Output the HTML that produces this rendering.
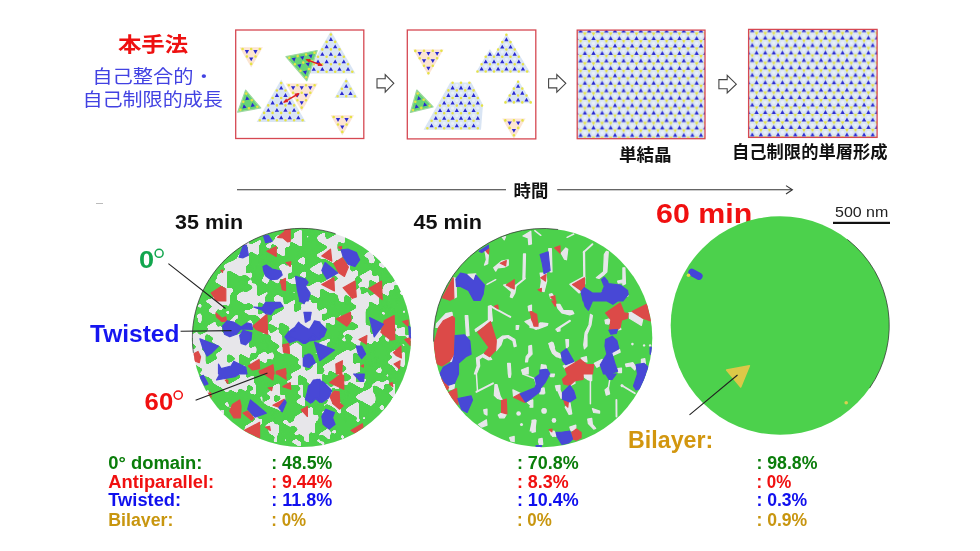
<!DOCTYPE html>
<html lang="ja"><head><meta charset="utf-8"><title>MoS2 growth</title>
<style>html,body{margin:0;padding:0;background:#fff}svg{display:block}text{font-family:'Liberation Sans','Noto Sans CJK JP',sans-serif}</style>
</head><body>
<svg width="980" height="551" viewBox="0 0 980 551">
<rect width="980" height="551" fill="#fff"/>
<defs>
<pattern id="lat3" width="8.6" height="14.9" patternUnits="userSpaceOnUse" patternTransform="translate(580.6,31.1)"><rect width="8.6" height="14.9" fill="#d9e5f4"/><circle cx="0" cy="5" r="1.6" fill="#e9f0fa"/><circle cx="8.6" cy="5" r="1.6" fill="#e9f0fa"/><circle cx="4.3" cy="12.4" r="1.6" fill="#e9f0fa"/><circle cx="4.3" cy="2.5" r="1.2" fill="#e6e345"/><circle cx="0" cy="9.9" r="1.2" fill="#e6e345"/><circle cx="8.6" cy="9.9" r="1.2" fill="#e6e345"/><path d="M4.3,2.5l0,2.2M4.3,2.5l-2,-1.2M4.3,2.5l2,-1.2M0,9.9l0,2.2M0,9.9l-2,-1.2M0,9.9l2,-1.2M8.6,9.9l0,2.2M8.6,9.9l-2,-1.2M8.6,9.9l2,-1.2" stroke="#e6e345" stroke-width="0.9" stroke-opacity="0.75" fill="none"/><path d="M0,-2.4 2.2,1.5 -2.2,1.5ZM8.6,-2.4 10.8,1.5 6.4,1.5ZM4.3,5 6.5,8.9 2.1,8.9ZM0,12.5 2.2,16.4 -2.2,16.4ZM8.6,12.5 10.8,16.4 6.4,16.4Z" fill="#2a2ad0"/></pattern>
<pattern id="lat4" width="8.6" height="14.9" patternUnits="userSpaceOnUse" patternTransform="translate(752.3,30.6)"><rect width="8.6" height="14.9" fill="#d9e5f4"/><circle cx="0" cy="5" r="1.6" fill="#e9f0fa"/><circle cx="8.6" cy="5" r="1.6" fill="#e9f0fa"/><circle cx="4.3" cy="12.4" r="1.6" fill="#e9f0fa"/><circle cx="4.3" cy="2.5" r="1.2" fill="#e6e345"/><circle cx="0" cy="9.9" r="1.2" fill="#e6e345"/><circle cx="8.6" cy="9.9" r="1.2" fill="#e6e345"/><path d="M4.3,2.5l0,2.2M4.3,2.5l-2,-1.2M4.3,2.5l2,-1.2M0,9.9l0,2.2M0,9.9l-2,-1.2M0,9.9l2,-1.2M8.6,9.9l0,2.2M8.6,9.9l-2,-1.2M8.6,9.9l2,-1.2" stroke="#e6e345" stroke-width="0.9" stroke-opacity="0.75" fill="none"/><path d="M0,-2.4 2.2,1.5 -2.2,1.5ZM8.6,-2.4 10.8,1.5 6.4,1.5ZM4.3,5 6.5,8.9 2.1,8.9ZM0,12.5 2.2,16.4 -2.2,16.4ZM8.6,12.5 10.8,16.4 6.4,16.4Z" fill="#2a2ad0"/></pattern>
<clipPath id="c1"><circle cx="301.7" cy="337.7" r="109.4"/></clipPath>
<clipPath id="c2"><circle cx="542.9" cy="337.8" r="109.4"/></clipPath>
<clipPath id="c3"><circle cx="780" cy="325.5" r="109.3"/></clipPath>
<filter id="goo" x="-5%" y="-5%" width="110%" height="110%" color-interpolation-filters="sRGB"><feGaussianBlur in="SourceGraphic" stdDeviation="1.45" result="b"/><feColorMatrix in="b" mode="matrix" values="1 0 0 0 0  0 1 0 0 0  0 0 1 0 0  0 0 0 16 -6.8"/></filter>
</defs>
<text x="153.1" y="51.6" font-size="20.6" fill="#ee1010" font-weight="bold" text-anchor="middle" textLength="70.3" lengthAdjust="spacingAndGlyphs" >本手法</text>
<text x="92.3" y="83.3" font-size="18.3" fill="#4242e2" font-weight="normal" text-anchor="start" textLength="121.6" lengthAdjust="spacingAndGlyphs" >自己整合的・</text>
<text x="82.5" y="106.3" font-size="18.6" fill="#4242e2" font-weight="normal" text-anchor="start" textLength="140.3" lengthAdjust="spacingAndGlyphs" >自己制限的成長</text>
<rect x="235.7" y="30" width="128.1" height="108.5" fill="#fff"/>
<rect x="407.3" y="30" width="128.5" height="108.9" fill="#fff"/>
<rect x="577.2" y="30.1" width="127.8" height="108.6" fill="url(#lat3)"/>
<rect x="748.6" y="29.4" width="128.5" height="108" fill="url(#lat4)"/>
<polygon points="251.2,67.5 239.5,47.2 262.9,47.2" fill="#fce5d2"/><path d="M251.2,63.9m-1.3,0a1.3,1.3 0 1,0 2.6,0a1.3,1.3 0 1,0 -2.6,0M255.5,56.5m-1.3,0a1.3,1.3 0 1,0 2.6,0a1.3,1.3 0 1,0 -2.6,0M246.9,56.5m-1.3,0a1.3,1.3 0 1,0 2.6,0a1.3,1.3 0 1,0 -2.6,0M259.8,49m-1.3,0a1.3,1.3 0 1,0 2.6,0a1.3,1.3 0 1,0 -2.6,0M251.2,49m-1.3,0a1.3,1.3 0 1,0 2.6,0a1.3,1.3 0 1,0 -2.6,0M242.6,49m-1.3,0a1.3,1.3 0 1,0 2.6,0a1.3,1.3 0 1,0 -2.6,0" fill="#e6e345"/><path d="M251.2,61.3 249.1,57.5 253.3,57.5ZM255.5,53.9 253.3,50.1 257.6,50.1ZM246.9,53.9 244.8,50.1 249.1,50.1Z" fill="#2a2ad0"/>
<polygon points="330.9,30.9 355.4,73.5 306.4,73.5" fill="#d9e5f4"/><path d="M330.9,34.5m-1.3,0a1.3,1.3 0 1,0 2.6,0a1.3,1.3 0 1,0 -2.6,0M326.6,41.9m-1.3,0a1.3,1.3 0 1,0 2.6,0a1.3,1.3 0 1,0 -2.6,0M335.2,41.9m-1.3,0a1.3,1.3 0 1,0 2.6,0a1.3,1.3 0 1,0 -2.6,0M322.3,49.4m-1.3,0a1.3,1.3 0 1,0 2.6,0a1.3,1.3 0 1,0 -2.6,0M330.9,49.4m-1.3,0a1.3,1.3 0 1,0 2.6,0a1.3,1.3 0 1,0 -2.6,0M339.5,49.4m-1.3,0a1.3,1.3 0 1,0 2.6,0a1.3,1.3 0 1,0 -2.6,0M318,56.8m-1.3,0a1.3,1.3 0 1,0 2.6,0a1.3,1.3 0 1,0 -2.6,0M326.6,56.8m-1.3,0a1.3,1.3 0 1,0 2.6,0a1.3,1.3 0 1,0 -2.6,0M335.2,56.8m-1.3,0a1.3,1.3 0 1,0 2.6,0a1.3,1.3 0 1,0 -2.6,0M343.8,56.8m-1.3,0a1.3,1.3 0 1,0 2.6,0a1.3,1.3 0 1,0 -2.6,0M313.8,64.3m-1.3,0a1.3,1.3 0 1,0 2.6,0a1.3,1.3 0 1,0 -2.6,0M322.3,64.3m-1.3,0a1.3,1.3 0 1,0 2.6,0a1.3,1.3 0 1,0 -2.6,0M330.9,64.3m-1.3,0a1.3,1.3 0 1,0 2.6,0a1.3,1.3 0 1,0 -2.6,0M339.5,64.3m-1.3,0a1.3,1.3 0 1,0 2.6,0a1.3,1.3 0 1,0 -2.6,0M348,64.3m-1.3,0a1.3,1.3 0 1,0 2.6,0a1.3,1.3 0 1,0 -2.6,0M309.5,71.7m-1.3,0a1.3,1.3 0 1,0 2.6,0a1.3,1.3 0 1,0 -2.6,0M318,71.7m-1.3,0a1.3,1.3 0 1,0 2.6,0a1.3,1.3 0 1,0 -2.6,0M326.6,71.7m-1.3,0a1.3,1.3 0 1,0 2.6,0a1.3,1.3 0 1,0 -2.6,0M335.2,71.7m-1.3,0a1.3,1.3 0 1,0 2.6,0a1.3,1.3 0 1,0 -2.6,0M343.8,71.7m-1.3,0a1.3,1.3 0 1,0 2.6,0a1.3,1.3 0 1,0 -2.6,0M352.3,71.7m-1.3,0a1.3,1.3 0 1,0 2.6,0a1.3,1.3 0 1,0 -2.6,0" fill="#e6e345"/><path d="M330.9,37.1 333,40.9 328.8,40.9ZM326.6,44.5 328.8,48.3 324.5,48.3ZM335.2,44.5 337.3,48.3 333,48.3ZM322.3,52 324.5,55.8 320.2,55.8ZM330.9,52 333,55.8 328.8,55.8ZM339.5,52 341.6,55.8 337.3,55.8ZM318,59.4 320.2,63.2 315.9,63.2ZM326.6,59.4 328.8,63.2 324.5,63.2ZM335.2,59.4 337.3,63.2 333,63.2ZM343.8,59.4 345.9,63.2 341.6,63.2ZM313.8,66.9 315.9,70.7 311.6,70.7ZM322.3,66.9 324.5,70.7 320.2,70.7ZM330.9,66.9 333,70.7 328.8,70.7ZM339.5,66.9 341.6,70.7 337.3,70.7ZM348,66.9 350.2,70.7 345.9,70.7Z" fill="#2a2ad0"/>
<polygon points="306.8,80.8 285.9,56.6 317.2,50.5" fill="#66d476" stroke="#9fd8a0" stroke-width="1.2" stroke-linejoin="round"/><path d="M306.1,77.2m-1.3,0a1.3,1.3 0 1,0 2.6,0a1.3,1.3 0 1,0 -2.6,0M308.9,69.1m-1.3,0a1.3,1.3 0 1,0 2.6,0a1.3,1.3 0 1,0 -2.6,0M300.5,70.7m-1.3,0a1.3,1.3 0 1,0 2.6,0a1.3,1.3 0 1,0 -2.6,0M311.7,61m-1.3,0a1.3,1.3 0 1,0 2.6,0a1.3,1.3 0 1,0 -2.6,0M303.3,62.6m-1.3,0a1.3,1.3 0 1,0 2.6,0a1.3,1.3 0 1,0 -2.6,0M294.9,64.2m-1.3,0a1.3,1.3 0 1,0 2.6,0a1.3,1.3 0 1,0 -2.6,0M314.5,52.8m-1.3,0a1.3,1.3 0 1,0 2.6,0a1.3,1.3 0 1,0 -2.6,0M306.1,54.5m-1.3,0a1.3,1.3 0 1,0 2.6,0a1.3,1.3 0 1,0 -2.6,0M297.7,56.1m-1.3,0a1.3,1.3 0 1,0 2.6,0a1.3,1.3 0 1,0 -2.6,0M289.3,57.7m-1.3,0a1.3,1.3 0 1,0 2.6,0a1.3,1.3 0 1,0 -2.6,0" fill="#e6e345"/><path d="M305.6,74.7 302.8,71.3 307,70.5ZM308.4,66.5 305.6,63.2 309.8,62.4ZM300,68.2 297.2,64.8 301.4,64ZM311.2,58.4 308.4,55.1 312.6,54.2ZM302.8,60 300,56.7 304.2,55.9ZM294.4,61.7 291.6,58.3 295.8,57.5Z" fill="#2a2ad0"/>
<polygon points="346.2,77.7 357.9,98 334.5,98" fill="#d9e5f4"/><path d="M346.2,81.3m-1.3,0a1.3,1.3 0 1,0 2.6,0a1.3,1.3 0 1,0 -2.6,0M341.9,88.7m-1.3,0a1.3,1.3 0 1,0 2.6,0a1.3,1.3 0 1,0 -2.6,0M350.5,88.7m-1.3,0a1.3,1.3 0 1,0 2.6,0a1.3,1.3 0 1,0 -2.6,0M337.6,96.2m-1.3,0a1.3,1.3 0 1,0 2.6,0a1.3,1.3 0 1,0 -2.6,0M346.2,96.2m-1.3,0a1.3,1.3 0 1,0 2.6,0a1.3,1.3 0 1,0 -2.6,0M354.8,96.2m-1.3,0a1.3,1.3 0 1,0 2.6,0a1.3,1.3 0 1,0 -2.6,0" fill="#e6e345"/><path d="M346.2,83.9 348.3,87.7 344.1,87.7ZM341.9,91.3 344.1,95.1 339.8,95.1ZM350.5,91.3 352.6,95.1 348.3,95.1Z" fill="#2a2ad0"/>
<polygon points="342.3,135.5 330.6,115.2 354,115.2" fill="#fce5d2"/><path d="M342.3,131.9m-1.3,0a1.3,1.3 0 1,0 2.6,0a1.3,1.3 0 1,0 -2.6,0M346.6,124.5m-1.3,0a1.3,1.3 0 1,0 2.6,0a1.3,1.3 0 1,0 -2.6,0M338,124.5m-1.3,0a1.3,1.3 0 1,0 2.6,0a1.3,1.3 0 1,0 -2.6,0M350.9,117m-1.3,0a1.3,1.3 0 1,0 2.6,0a1.3,1.3 0 1,0 -2.6,0M342.3,117m-1.3,0a1.3,1.3 0 1,0 2.6,0a1.3,1.3 0 1,0 -2.6,0M333.7,117m-1.3,0a1.3,1.3 0 1,0 2.6,0a1.3,1.3 0 1,0 -2.6,0" fill="#e6e345"/><path d="M342.3,129.3 340.2,125.5 344.4,125.5ZM346.6,121.9 344.4,118.1 348.7,118.1ZM338,121.9 335.9,118.1 340.2,118.1Z" fill="#2a2ad0"/>
<polygon points="281.2,79.5 305.7,122.1 256.7,122.1" fill="#d9e5f4"/><path d="M281.2,83.1m-1.3,0a1.3,1.3 0 1,0 2.6,0a1.3,1.3 0 1,0 -2.6,0M276.9,90.5m-1.3,0a1.3,1.3 0 1,0 2.6,0a1.3,1.3 0 1,0 -2.6,0M285.5,90.5m-1.3,0a1.3,1.3 0 1,0 2.6,0a1.3,1.3 0 1,0 -2.6,0M272.6,98m-1.3,0a1.3,1.3 0 1,0 2.6,0a1.3,1.3 0 1,0 -2.6,0M281.2,98m-1.3,0a1.3,1.3 0 1,0 2.6,0a1.3,1.3 0 1,0 -2.6,0M289.8,98m-1.3,0a1.3,1.3 0 1,0 2.6,0a1.3,1.3 0 1,0 -2.6,0M268.3,105.4m-1.3,0a1.3,1.3 0 1,0 2.6,0a1.3,1.3 0 1,0 -2.6,0M276.9,105.4m-1.3,0a1.3,1.3 0 1,0 2.6,0a1.3,1.3 0 1,0 -2.6,0M285.5,105.4m-1.3,0a1.3,1.3 0 1,0 2.6,0a1.3,1.3 0 1,0 -2.6,0M294.1,105.4m-1.3,0a1.3,1.3 0 1,0 2.6,0a1.3,1.3 0 1,0 -2.6,0M264.1,112.9m-1.3,0a1.3,1.3 0 1,0 2.6,0a1.3,1.3 0 1,0 -2.6,0M272.6,112.9m-1.3,0a1.3,1.3 0 1,0 2.6,0a1.3,1.3 0 1,0 -2.6,0M281.2,112.9m-1.3,0a1.3,1.3 0 1,0 2.6,0a1.3,1.3 0 1,0 -2.6,0M289.8,112.9m-1.3,0a1.3,1.3 0 1,0 2.6,0a1.3,1.3 0 1,0 -2.6,0M298.3,112.9m-1.3,0a1.3,1.3 0 1,0 2.6,0a1.3,1.3 0 1,0 -2.6,0M259.8,120.3m-1.3,0a1.3,1.3 0 1,0 2.6,0a1.3,1.3 0 1,0 -2.6,0M268.3,120.3m-1.3,0a1.3,1.3 0 1,0 2.6,0a1.3,1.3 0 1,0 -2.6,0M276.9,120.3m-1.3,0a1.3,1.3 0 1,0 2.6,0a1.3,1.3 0 1,0 -2.6,0M285.5,120.3m-1.3,0a1.3,1.3 0 1,0 2.6,0a1.3,1.3 0 1,0 -2.6,0M294.1,120.3m-1.3,0a1.3,1.3 0 1,0 2.6,0a1.3,1.3 0 1,0 -2.6,0M302.6,120.3m-1.3,0a1.3,1.3 0 1,0 2.6,0a1.3,1.3 0 1,0 -2.6,0" fill="#e6e345"/><path d="M281.2,85.7 283.3,89.5 279.1,89.5ZM276.9,93.1 279.1,96.9 274.8,96.9ZM285.5,93.1 287.6,96.9 283.3,96.9ZM272.6,100.6 274.8,104.4 270.5,104.4ZM281.2,100.6 283.3,104.4 279.1,104.4ZM289.8,100.6 291.9,104.4 287.6,104.4ZM268.3,108 270.5,111.8 266.2,111.8ZM276.9,108 279.1,111.8 274.8,111.8ZM285.5,108 287.6,111.8 283.3,111.8ZM294.1,108 296.2,111.8 291.9,111.8ZM264.1,115.5 266.2,119.3 261.9,119.3ZM272.6,115.5 274.8,119.3 270.5,119.3ZM281.2,115.5 283.3,119.3 279.1,119.3ZM289.8,115.5 291.9,119.3 287.6,119.3ZM298.3,115.5 300.5,119.3 296.2,119.3Z" fill="#2a2ad0"/>
<polygon points="301.7,111.2 285.7,83.5 317.7,83.5" fill="#fce5d2"/><path d="M301.7,107.6m-1.3,0a1.3,1.3 0 1,0 2.6,0a1.3,1.3 0 1,0 -2.6,0M306,100.2m-1.3,0a1.3,1.3 0 1,0 2.6,0a1.3,1.3 0 1,0 -2.6,0M297.4,100.2m-1.3,0a1.3,1.3 0 1,0 2.6,0a1.3,1.3 0 1,0 -2.6,0M310.3,92.7m-1.3,0a1.3,1.3 0 1,0 2.6,0a1.3,1.3 0 1,0 -2.6,0M301.7,92.7m-1.3,0a1.3,1.3 0 1,0 2.6,0a1.3,1.3 0 1,0 -2.6,0M293.1,92.7m-1.3,0a1.3,1.3 0 1,0 2.6,0a1.3,1.3 0 1,0 -2.6,0M314.6,85.2m-1.3,0a1.3,1.3 0 1,0 2.6,0a1.3,1.3 0 1,0 -2.6,0M306,85.2m-1.3,0a1.3,1.3 0 1,0 2.6,0a1.3,1.3 0 1,0 -2.6,0M297.4,85.2m-1.3,0a1.3,1.3 0 1,0 2.6,0a1.3,1.3 0 1,0 -2.6,0M288.8,85.2m-1.3,0a1.3,1.3 0 1,0 2.6,0a1.3,1.3 0 1,0 -2.6,0" fill="#e6e345"/><path d="M301.7,105 299.6,101.2 303.8,101.2ZM306,97.5 303.8,93.7 308.1,93.7ZM297.4,97.5 295.3,93.7 299.6,93.7ZM310.3,90.1 308.1,86.3 312.4,86.3ZM301.7,90.1 299.6,86.3 303.8,86.3ZM293.1,90.1 291,86.3 295.3,86.3Z" fill="#2a2ad0"/>
<polygon points="245.6,90.1 260.7,108 237.7,112.1" fill="#66d476" stroke="#9fd8a0" stroke-width="1.2" stroke-linejoin="round"/><path d="M246.3,93.6m-1.3,0a1.3,1.3 0 1,0 2.6,0a1.3,1.3 0 1,0 -2.6,0M243.3,101.7m-1.3,0a1.3,1.3 0 1,0 2.6,0a1.3,1.3 0 1,0 -2.6,0M251.8,100.2m-1.3,0a1.3,1.3 0 1,0 2.6,0a1.3,1.3 0 1,0 -2.6,0M240.4,109.8m-1.3,0a1.3,1.3 0 1,0 2.6,0a1.3,1.3 0 1,0 -2.6,0M248.9,108.3m-1.3,0a1.3,1.3 0 1,0 2.6,0a1.3,1.3 0 1,0 -2.6,0M257.3,106.8m-1.3,0a1.3,1.3 0 1,0 2.6,0a1.3,1.3 0 1,0 -2.6,0" fill="#e6e345"/><path d="M246.7,96.2 249.5,99.6 245.3,100.3ZM243.8,104.3 246.6,107.7 242.4,108.4ZM252.2,102.8 255,106.2 250.8,106.9Z" fill="#2a2ad0"/>
<line x1="306.4" y1="59.6" x2="321.8" y2="65.3" stroke="#e02020" stroke-width="1.5"/><polygon points="305.3,59.2 310.6,59 309.2,62.8" fill="#e02020"/><polygon points="322.9,65.7 317.6,65.9 319,62.1" fill="#e02020"/>
<line x1="284" y1="102.1" x2="298.6" y2="93.6" stroke="#e02020" stroke-width="1.5"/><polygon points="283,102.7 286.2,98.5 288.2,102" fill="#e02020"/><polygon points="299.6,93 296.4,97.2 294.4,93.7" fill="#e02020"/>
<polygon points="428.4,75.6 413.2,49.6 443.6,49.6" fill="#fce5d2"/><path d="M428.4,73.2m-1.3,0a1.3,1.3 0 1,0 2.6,0a1.3,1.3 0 1,0 -2.6,0M432.8,65.8m-1.3,0a1.3,1.3 0 1,0 2.6,0a1.3,1.3 0 1,0 -2.6,0M424,65.8m-1.3,0a1.3,1.3 0 1,0 2.6,0a1.3,1.3 0 1,0 -2.6,0M437.1,58.3m-1.3,0a1.3,1.3 0 1,0 2.6,0a1.3,1.3 0 1,0 -2.6,0M428.4,58.3m-1.3,0a1.3,1.3 0 1,0 2.6,0a1.3,1.3 0 1,0 -2.6,0M419.7,58.3m-1.3,0a1.3,1.3 0 1,0 2.6,0a1.3,1.3 0 1,0 -2.6,0M441.4,50.8m-1.3,0a1.3,1.3 0 1,0 2.6,0a1.3,1.3 0 1,0 -2.6,0M432.8,50.8m-1.3,0a1.3,1.3 0 1,0 2.6,0a1.3,1.3 0 1,0 -2.6,0M424,50.8m-1.3,0a1.3,1.3 0 1,0 2.6,0a1.3,1.3 0 1,0 -2.6,0M415.3,50.9m-1.3,0a1.3,1.3 0 1,0 2.6,0a1.3,1.3 0 1,0 -2.6,0" fill="#e6e345"/><path d="M428.4,70.6 426.3,66.8 430.5,66.8ZM432.8,63.1 430.6,59.3 434.9,59.3ZM424,63.1 421.9,59.3 426.2,59.3ZM437.1,55.7 435,51.9 439.2,51.9ZM428.4,55.7 426.3,51.9 430.5,51.9ZM419.7,55.7 417.6,51.9 421.8,51.9Z" fill="#2a2ad0"/>
<polygon points="475.8,72.6 489.9,49 494,55.3 506.4,33.6 530.2,72.6" fill="#d9e5f4"/><path d="M506.4,44.6m-1.6,0a1.6,1.6 0 1,0 3.2,0a1.6,1.6 0 1,0 -3.2,0M502.3,51.9m-1.6,0a1.6,1.6 0 1,0 3.2,0a1.6,1.6 0 1,0 -3.2,0M510.5,51.9m-1.6,0a1.6,1.6 0 1,0 3.2,0a1.6,1.6 0 1,0 -3.2,0M489.9,59.3m-1.6,0a1.6,1.6 0 1,0 3.2,0a1.6,1.6 0 1,0 -3.2,0M498.1,59.3m-1.6,0a1.6,1.6 0 1,0 3.2,0a1.6,1.6 0 1,0 -3.2,0M506.4,59.3m-1.6,0a1.6,1.6 0 1,0 3.2,0a1.6,1.6 0 1,0 -3.2,0M514.7,59.3m-1.6,0a1.6,1.6 0 1,0 3.2,0a1.6,1.6 0 1,0 -3.2,0M485.7,66.6m-1.6,0a1.6,1.6 0 1,0 3.2,0a1.6,1.6 0 1,0 -3.2,0M494,66.6m-1.6,0a1.6,1.6 0 1,0 3.2,0a1.6,1.6 0 1,0 -3.2,0M502.3,66.6m-1.6,0a1.6,1.6 0 1,0 3.2,0a1.6,1.6 0 1,0 -3.2,0M510.5,66.6m-1.6,0a1.6,1.6 0 1,0 3.2,0a1.6,1.6 0 1,0 -3.2,0M518.8,66.6m-1.6,0a1.6,1.6 0 1,0 3.2,0a1.6,1.6 0 1,0 -3.2,0" fill="#e9f0fa"/><path d="M506.4,34.8m-1.3,0a1.3,1.3 0 1,0 2.6,0a1.3,1.3 0 1,0 -2.6,0M502.3,42.1m-1.3,0a1.3,1.3 0 1,0 2.6,0a1.3,1.3 0 1,0 -2.6,0M510.5,42.1m-1.3,0a1.3,1.3 0 1,0 2.6,0a1.3,1.3 0 1,0 -2.6,0M498.1,49.5m-1.3,0a1.3,1.3 0 1,0 2.6,0a1.3,1.3 0 1,0 -2.6,0M506.4,49.5m-1.3,0a1.3,1.3 0 1,0 2.6,0a1.3,1.3 0 1,0 -2.6,0M514.7,49.5m-1.3,0a1.3,1.3 0 1,0 2.6,0a1.3,1.3 0 1,0 -2.6,0M485.7,56.8m-1.3,0a1.3,1.3 0 1,0 2.6,0a1.3,1.3 0 1,0 -2.6,0M494,56.8m-1.3,0a1.3,1.3 0 1,0 2.6,0a1.3,1.3 0 1,0 -2.6,0M502.3,56.8m-1.3,0a1.3,1.3 0 1,0 2.6,0a1.3,1.3 0 1,0 -2.6,0M510.5,56.8m-1.3,0a1.3,1.3 0 1,0 2.6,0a1.3,1.3 0 1,0 -2.6,0M518.8,56.8m-1.3,0a1.3,1.3 0 1,0 2.6,0a1.3,1.3 0 1,0 -2.6,0M481.6,64.2m-1.3,0a1.3,1.3 0 1,0 2.6,0a1.3,1.3 0 1,0 -2.6,0M489.9,64.2m-1.3,0a1.3,1.3 0 1,0 2.6,0a1.3,1.3 0 1,0 -2.6,0M498.1,64.2m-1.3,0a1.3,1.3 0 1,0 2.6,0a1.3,1.3 0 1,0 -2.6,0M506.4,64.2m-1.3,0a1.3,1.3 0 1,0 2.6,0a1.3,1.3 0 1,0 -2.6,0M514.7,64.2m-1.3,0a1.3,1.3 0 1,0 2.6,0a1.3,1.3 0 1,0 -2.6,0M522.9,64.2m-1.3,0a1.3,1.3 0 1,0 2.6,0a1.3,1.3 0 1,0 -2.6,0M477.5,71.5m-1.3,0a1.3,1.3 0 1,0 2.6,0a1.3,1.3 0 1,0 -2.6,0M485.7,71.5m-1.3,0a1.3,1.3 0 1,0 2.6,0a1.3,1.3 0 1,0 -2.6,0M494,71.5m-1.3,0a1.3,1.3 0 1,0 2.6,0a1.3,1.3 0 1,0 -2.6,0M502.3,71.5m-1.3,0a1.3,1.3 0 1,0 2.6,0a1.3,1.3 0 1,0 -2.6,0M510.5,71.5m-1.3,0a1.3,1.3 0 1,0 2.6,0a1.3,1.3 0 1,0 -2.6,0M518.8,71.5m-1.3,0a1.3,1.3 0 1,0 2.6,0a1.3,1.3 0 1,0 -2.6,0M527.1,71.5m-1.3,0a1.3,1.3 0 1,0 2.6,0a1.3,1.3 0 1,0 -2.6,0" fill="#e6e345"/><path d="M506.4,37.3 508.5,41.2 504.3,41.2ZM502.3,44.7 504.4,48.5 500.1,48.5ZM510.5,44.7 512.7,48.5 508.4,48.5ZM489.9,52 492,55.8 487.7,55.8ZM498.1,52 500.3,55.8 496,55.8ZM506.4,52 508.5,55.8 504.3,55.8ZM514.7,52 516.8,55.8 512.5,55.8ZM485.7,59.4 487.9,63.2 483.6,63.2ZM494,59.4 496.1,63.2 491.9,63.2ZM502.3,59.4 504.4,63.2 500.1,63.2ZM510.5,59.4 512.7,63.2 508.4,63.2ZM518.8,59.4 520.9,63.2 516.7,63.2ZM481.6,66.7 483.7,70.5 479.5,70.5ZM489.9,66.7 492,70.5 487.7,70.5ZM498.1,66.7 500.3,70.5 496,70.5ZM506.4,66.7 508.5,70.5 504.3,70.5ZM514.7,66.7 516.8,70.5 512.5,70.5ZM522.9,66.7 525.1,70.5 520.8,70.5Z" fill="#2a2ad0"/>
<polygon points="416.8,90 433.1,106.8 410.4,112.5" fill="#66d476" stroke="#9fd8a0" stroke-width="1.2" stroke-linejoin="round"/><path d="M417.7,93.5m-1.3,0a1.3,1.3 0 1,0 2.6,0a1.3,1.3 0 1,0 -2.6,0M415.3,101.7m-1.3,0a1.3,1.3 0 1,0 2.6,0a1.3,1.3 0 1,0 -2.6,0M423.7,99.7m-1.3,0a1.3,1.3 0 1,0 2.6,0a1.3,1.3 0 1,0 -2.6,0M413,110m-1.3,0a1.3,1.3 0 1,0 2.6,0a1.3,1.3 0 1,0 -2.6,0M421.3,107.9m-1.3,0a1.3,1.3 0 1,0 2.6,0a1.3,1.3 0 1,0 -2.6,0M429.6,105.8m-1.3,0a1.3,1.3 0 1,0 2.6,0a1.3,1.3 0 1,0 -2.6,0" fill="#e6e345"/><path d="M418.3,96 421.3,99.2 417.2,100.2ZM416,104.3 419,107.4 414.8,108.5ZM424.3,102.2 427.3,105.4 423.1,106.4Z" fill="#2a2ad0"/>
<polygon points="423.6,129.8 450.2,82.4 471.3,82.4 483,104.8 481,129.8" fill="#d9e5f4"/><path d="M456.8,85.4m-1.6,0a1.6,1.6 0 1,0 3.2,0a1.6,1.6 0 1,0 -3.2,0M465.2,85.4m-1.6,0a1.6,1.6 0 1,0 3.2,0a1.6,1.6 0 1,0 -3.2,0M452.6,93m-1.6,0a1.6,1.6 0 1,0 3.2,0a1.6,1.6 0 1,0 -3.2,0M461,93m-1.6,0a1.6,1.6 0 1,0 3.2,0a1.6,1.6 0 1,0 -3.2,0M469.4,93m-1.6,0a1.6,1.6 0 1,0 3.2,0a1.6,1.6 0 1,0 -3.2,0M448.4,100.5m-1.6,0a1.6,1.6 0 1,0 3.2,0a1.6,1.6 0 1,0 -3.2,0M456.8,100.5m-1.6,0a1.6,1.6 0 1,0 3.2,0a1.6,1.6 0 1,0 -3.2,0M465.2,100.5m-1.6,0a1.6,1.6 0 1,0 3.2,0a1.6,1.6 0 1,0 -3.2,0M473.6,100.5m-1.6,0a1.6,1.6 0 1,0 3.2,0a1.6,1.6 0 1,0 -3.2,0M444.2,108.1m-1.6,0a1.6,1.6 0 1,0 3.2,0a1.6,1.6 0 1,0 -3.2,0M452.6,108.1m-1.6,0a1.6,1.6 0 1,0 3.2,0a1.6,1.6 0 1,0 -3.2,0M461,108.1m-1.6,0a1.6,1.6 0 1,0 3.2,0a1.6,1.6 0 1,0 -3.2,0M469.4,108.1m-1.6,0a1.6,1.6 0 1,0 3.2,0a1.6,1.6 0 1,0 -3.2,0M477.8,108.1m-1.6,0a1.6,1.6 0 1,0 3.2,0a1.6,1.6 0 1,0 -3.2,0M440,115.7m-1.6,0a1.6,1.6 0 1,0 3.2,0a1.6,1.6 0 1,0 -3.2,0M448.4,115.7m-1.6,0a1.6,1.6 0 1,0 3.2,0a1.6,1.6 0 1,0 -3.2,0M456.8,115.7m-1.6,0a1.6,1.6 0 1,0 3.2,0a1.6,1.6 0 1,0 -3.2,0M465.2,115.7m-1.6,0a1.6,1.6 0 1,0 3.2,0a1.6,1.6 0 1,0 -3.2,0M473.6,115.7m-1.6,0a1.6,1.6 0 1,0 3.2,0a1.6,1.6 0 1,0 -3.2,0M435.8,123.3m-1.6,0a1.6,1.6 0 1,0 3.2,0a1.6,1.6 0 1,0 -3.2,0M444.2,123.3m-1.6,0a1.6,1.6 0 1,0 3.2,0a1.6,1.6 0 1,0 -3.2,0M452.6,123.3m-1.6,0a1.6,1.6 0 1,0 3.2,0a1.6,1.6 0 1,0 -3.2,0M461,123.3m-1.6,0a1.6,1.6 0 1,0 3.2,0a1.6,1.6 0 1,0 -3.2,0M469.4,123.3m-1.6,0a1.6,1.6 0 1,0 3.2,0a1.6,1.6 0 1,0 -3.2,0M477.8,123.3m-1.6,0a1.6,1.6 0 1,0 3.2,0a1.6,1.6 0 1,0 -3.2,0" fill="#e9f0fa"/><path d="M452.6,82.8m-1.3,0a1.3,1.3 0 1,0 2.6,0a1.3,1.3 0 1,0 -2.6,0M461,82.8m-1.3,0a1.3,1.3 0 1,0 2.6,0a1.3,1.3 0 1,0 -2.6,0M469.4,82.8m-1.3,0a1.3,1.3 0 1,0 2.6,0a1.3,1.3 0 1,0 -2.6,0M448.4,90.4m-1.3,0a1.3,1.3 0 1,0 2.6,0a1.3,1.3 0 1,0 -2.6,0M456.8,90.4m-1.3,0a1.3,1.3 0 1,0 2.6,0a1.3,1.3 0 1,0 -2.6,0M465.2,90.4m-1.3,0a1.3,1.3 0 1,0 2.6,0a1.3,1.3 0 1,0 -2.6,0M473.6,90.4m-1.3,0a1.3,1.3 0 1,0 2.6,0a1.3,1.3 0 1,0 -2.6,0M444.2,98m-1.3,0a1.3,1.3 0 1,0 2.6,0a1.3,1.3 0 1,0 -2.6,0M452.6,98m-1.3,0a1.3,1.3 0 1,0 2.6,0a1.3,1.3 0 1,0 -2.6,0M461,98m-1.3,0a1.3,1.3 0 1,0 2.6,0a1.3,1.3 0 1,0 -2.6,0M469.4,98m-1.3,0a1.3,1.3 0 1,0 2.6,0a1.3,1.3 0 1,0 -2.6,0M477.8,98m-1.3,0a1.3,1.3 0 1,0 2.6,0a1.3,1.3 0 1,0 -2.6,0M440,105.6m-1.3,0a1.3,1.3 0 1,0 2.6,0a1.3,1.3 0 1,0 -2.6,0M448.4,105.6m-1.3,0a1.3,1.3 0 1,0 2.6,0a1.3,1.3 0 1,0 -2.6,0M456.8,105.6m-1.3,0a1.3,1.3 0 1,0 2.6,0a1.3,1.3 0 1,0 -2.6,0M465.2,105.6m-1.3,0a1.3,1.3 0 1,0 2.6,0a1.3,1.3 0 1,0 -2.6,0M473.6,105.6m-1.3,0a1.3,1.3 0 1,0 2.6,0a1.3,1.3 0 1,0 -2.6,0M482,105.6m-1.3,0a1.3,1.3 0 1,0 2.6,0a1.3,1.3 0 1,0 -2.6,0M435.8,113.2m-1.3,0a1.3,1.3 0 1,0 2.6,0a1.3,1.3 0 1,0 -2.6,0M444.2,113.2m-1.3,0a1.3,1.3 0 1,0 2.6,0a1.3,1.3 0 1,0 -2.6,0M452.6,113.2m-1.3,0a1.3,1.3 0 1,0 2.6,0a1.3,1.3 0 1,0 -2.6,0M461,113.2m-1.3,0a1.3,1.3 0 1,0 2.6,0a1.3,1.3 0 1,0 -2.6,0M469.4,113.2m-1.3,0a1.3,1.3 0 1,0 2.6,0a1.3,1.3 0 1,0 -2.6,0M477.8,113.2m-1.3,0a1.3,1.3 0 1,0 2.6,0a1.3,1.3 0 1,0 -2.6,0M431.6,120.7m-1.3,0a1.3,1.3 0 1,0 2.6,0a1.3,1.3 0 1,0 -2.6,0M440,120.7m-1.3,0a1.3,1.3 0 1,0 2.6,0a1.3,1.3 0 1,0 -2.6,0M448.4,120.7m-1.3,0a1.3,1.3 0 1,0 2.6,0a1.3,1.3 0 1,0 -2.6,0M456.8,120.7m-1.3,0a1.3,1.3 0 1,0 2.6,0a1.3,1.3 0 1,0 -2.6,0M465.2,120.7m-1.3,0a1.3,1.3 0 1,0 2.6,0a1.3,1.3 0 1,0 -2.6,0M473.6,120.7m-1.3,0a1.3,1.3 0 1,0 2.6,0a1.3,1.3 0 1,0 -2.6,0M427.4,128.3m-1.3,0a1.3,1.3 0 1,0 2.6,0a1.3,1.3 0 1,0 -2.6,0M435.8,128.3m-1.3,0a1.3,1.3 0 1,0 2.6,0a1.3,1.3 0 1,0 -2.6,0M444.2,128.3m-1.3,0a1.3,1.3 0 1,0 2.6,0a1.3,1.3 0 1,0 -2.6,0M452.6,128.3m-1.3,0a1.3,1.3 0 1,0 2.6,0a1.3,1.3 0 1,0 -2.6,0M461,128.3m-1.3,0a1.3,1.3 0 1,0 2.6,0a1.3,1.3 0 1,0 -2.6,0M469.4,128.3m-1.3,0a1.3,1.3 0 1,0 2.6,0a1.3,1.3 0 1,0 -2.6,0M477.8,128.3m-1.3,0a1.3,1.3 0 1,0 2.6,0a1.3,1.3 0 1,0 -2.6,0" fill="#e6e345"/><path d="M452.6,85.5 454.7,89.4 450.5,89.4ZM461,85.5 463.1,89.4 458.9,89.4ZM469.4,85.5 471.5,89.4 467.3,89.4ZM448.4,93.1 450.5,96.9 446.3,96.9ZM456.8,93.1 458.9,96.9 454.7,96.9ZM465.2,93.1 467.3,96.9 463.1,96.9ZM473.6,93.1 475.7,96.9 471.5,96.9ZM444.2,100.7 446.3,104.5 442.1,104.5ZM452.6,100.7 454.7,104.5 450.5,104.5ZM461,100.7 463.1,104.5 458.9,104.5ZM469.4,100.7 471.5,104.5 467.3,104.5ZM477.8,100.7 479.9,104.5 475.7,104.5ZM440,108.3 442.1,112.1 437.9,112.1ZM448.4,108.3 450.5,112.1 446.3,112.1ZM456.8,108.3 458.9,112.1 454.7,112.1ZM465.2,108.3 467.3,112.1 463.1,112.1ZM473.6,108.3 475.7,112.1 471.5,112.1ZM435.8,115.9 437.9,119.7 433.7,119.7ZM444.2,115.9 446.3,119.7 442.1,119.7ZM452.6,115.9 454.7,119.7 450.5,119.7ZM461,115.9 463.1,119.7 458.9,119.7ZM469.4,115.9 471.5,119.7 467.3,119.7ZM477.8,115.9 479.9,119.7 475.7,119.7ZM431.6,123.4 433.7,127.3 429.5,127.3ZM440,123.4 442.1,127.3 437.9,127.3ZM448.4,123.4 450.5,127.3 446.3,127.3ZM456.8,123.4 458.9,127.3 454.7,127.3ZM465.2,123.4 467.3,127.3 463.1,127.3ZM473.6,123.4 475.7,127.3 471.5,127.3Z" fill="#2a2ad0"/>
<polygon points="518.1,79.9 532.3,103.3 503.9,103.3" fill="#d9e5f4"/><path d="M518.1,81.7m-1.3,0a1.3,1.3 0 1,0 2.6,0a1.3,1.3 0 1,0 -2.6,0M513.9,88.6m-1.3,0a1.3,1.3 0 1,0 2.6,0a1.3,1.3 0 1,0 -2.6,0M522.3,88.6m-1.3,0a1.3,1.3 0 1,0 2.6,0a1.3,1.3 0 1,0 -2.6,0M509.7,95.5m-1.3,0a1.3,1.3 0 1,0 2.6,0a1.3,1.3 0 1,0 -2.6,0M518.1,95.5m-1.3,0a1.3,1.3 0 1,0 2.6,0a1.3,1.3 0 1,0 -2.6,0M526.5,95.5m-1.3,0a1.3,1.3 0 1,0 2.6,0a1.3,1.3 0 1,0 -2.6,0M505.5,102.4m-1.3,0a1.3,1.3 0 1,0 2.6,0a1.3,1.3 0 1,0 -2.6,0M513.9,102.4m-1.3,0a1.3,1.3 0 1,0 2.6,0a1.3,1.3 0 1,0 -2.6,0M522.3,102.4m-1.3,0a1.3,1.3 0 1,0 2.6,0a1.3,1.3 0 1,0 -2.6,0M530.7,102.4m-1.3,0a1.3,1.3 0 1,0 2.6,0a1.3,1.3 0 1,0 -2.6,0" fill="#e6e345"/><path d="M518.1,83.9 520.2,87.8 516,87.8ZM513.9,90.8 516,94.7 511.8,94.7ZM522.3,90.8 524.4,94.7 520.2,94.7ZM509.7,97.7 511.8,101.6 507.6,101.6ZM518.1,97.7 520.2,101.6 516,101.6ZM526.5,97.7 528.6,101.6 524.4,101.6Z" fill="#2a2ad0"/>
<polygon points="513.9,138.9 502.2,118.6 525.6,118.6" fill="#fce5d2"/><path d="M513.9,135.3m-1.3,0a1.3,1.3 0 1,0 2.6,0a1.3,1.3 0 1,0 -2.6,0M518.2,127.9m-1.3,0a1.3,1.3 0 1,0 2.6,0a1.3,1.3 0 1,0 -2.6,0M509.6,127.9m-1.3,0a1.3,1.3 0 1,0 2.6,0a1.3,1.3 0 1,0 -2.6,0M522.5,120.4m-1.3,0a1.3,1.3 0 1,0 2.6,0a1.3,1.3 0 1,0 -2.6,0M513.9,120.4m-1.3,0a1.3,1.3 0 1,0 2.6,0a1.3,1.3 0 1,0 -2.6,0M505.3,120.4m-1.3,0a1.3,1.3 0 1,0 2.6,0a1.3,1.3 0 1,0 -2.6,0" fill="#e6e345"/><path d="M513.9,132.7 511.8,128.9 516,128.9ZM518.2,125.3 516,121.5 520.3,121.5ZM509.6,125.3 507.5,121.5 511.8,121.5Z" fill="#2a2ad0"/>
<rect x="235.7" y="30" width="128.1" height="108.5" fill="none" stroke="#d64852" stroke-width="1.3"/>
<rect x="407.3" y="30" width="128.5" height="108.9" fill="none" stroke="#d64852" stroke-width="1.3"/>
<rect x="577.2" y="30.1" width="127.8" height="108.6" fill="none" stroke="#d64852" stroke-width="1.3"/>
<rect x="748.6" y="29.4" width="128.5" height="108" fill="none" stroke="#d64852" stroke-width="1.3"/>
<polygon points="377,78.7 385.2,78.7 385.2,74.5 393.8,83.3 385.2,92.1 385.2,87.9 377,87.9" fill="#fff" stroke="#444" stroke-width="1.1" stroke-linejoin="miter"/>
<polygon points="548.6,78.7 556.8,78.7 556.8,74.5 565.8,83.3 556.8,92.1 556.8,87.9 548.6,87.9" fill="#fff" stroke="#444" stroke-width="1.1" stroke-linejoin="miter"/>
<polygon points="718.9,79.6 727.2,79.6 727.2,75.4 736.3,84.2 727.2,93 727.2,88.8 718.9,88.8" fill="#fff" stroke="#444" stroke-width="1.1" stroke-linejoin="miter"/>
<text x="645.3" y="160.5" font-size="17.6" fill="#111" font-weight="bold" text-anchor="middle" >単結晶</text>
<text x="809.8" y="158.2" font-size="17.3" fill="#111" font-weight="bold" text-anchor="middle" >自己制限的単層形成</text>
<path d="M237,189.8H506M557.2,189.8H792" stroke="#333" stroke-width="1.1" fill="none"/>
<path d="M786,185.6L792.4,189.8L786,194" stroke="#333" stroke-width="1.1" fill="none"/>
<text x="531" y="197.2" font-size="17.4" fill="#111" font-weight="bold" text-anchor="middle" >時間</text>
<text x="175" y="229" font-size="20.6" fill="#111" font-weight="bold" text-anchor="start" textLength="68.1" lengthAdjust="spacingAndGlyphs" >35 min</text>
<text x="413.4" y="228.6" font-size="20.6" fill="#111" font-weight="bold" text-anchor="start" textLength="68.5" lengthAdjust="spacingAndGlyphs" >45 min</text>
<text x="656" y="222.9" font-size="28" fill="#f01010" font-weight="bold" text-anchor="start" textLength="96.2" lengthAdjust="spacingAndGlyphs" >60 min</text>
<text x="835" y="216.8" font-size="15" fill="#222" font-weight="normal" text-anchor="start" textLength="53.3" lengthAdjust="spacingAndGlyphs" >500 nm</text>
<rect x="833" y="221.8" width="57" height="2.2" fill="#111"/>
<!--C1-->
<circle cx="301.7" cy="337.7" r="109.4" fill="#e7e6ea"/>
<g clip-path="url(#c1)"><g filter="url(#goo)"><path d="M257.9,218.9L257.9,235.9L272.6,227.4ZM269.4,221.9L269.4,238.9L284.2,230.4ZM280.7,220.2L280.7,236.3L294.6,228.2ZM290.6,221.4L290.6,234.1L301.6,227.8ZM303.1,220.1L303.1,236.5L317.3,228.3ZM313.3,221.8L313.3,237.2L326.7,229.5ZM326.3,220.3L326.3,238.7L342.1,229.5ZM238.4,228.7L238.4,244L251.6,236.3ZM249.9,229.6L249.9,244.3L262.6,237ZM262.4,231.7L262.4,245.9L274.7,238.8ZM287.4,232.7L287.4,240.5L294.2,236.6ZM310,234.6L310,242.7L317,238.7ZM345.8,232.2L345.8,245.4L357.2,238.8ZM351.8,227.8L351.8,245.4L367,236.6ZM221.2,240.3L221.2,256.6L235.4,248.5ZM233.7,239.9L233.7,256.4L248,248.2ZM259.9,244.4L259.9,255.6L269.6,250ZM271.9,244.4L271.9,251.6L278.2,248ZM290.8,242.1L290.8,257.6L304.3,249.9ZM303.2,236.9L303.2,256L319.8,246.4ZM314.2,239.9L314.2,254.9L327.2,247.4ZM338.4,242.2L338.4,251.3L346.3,246.8ZM345.9,237.6L345.9,256.6L362.4,247.1ZM360.2,237L360.2,255.5L376.2,246.2ZM374.2,241.8L374.2,256.6L387,249.2ZM217.7,249.6L217.7,267.5L233.2,258.6ZM230.6,253.4L230.6,261L237.2,257.2ZM250,252L250,266.5L262.5,259.3ZM264.3,250.4L264.3,262.6L274.8,256.5ZM272.5,251.4L272.5,268.5L287.3,260ZM286,247L286,265.5L302,256.2ZM306.1,251.3L306.1,269.5L321.8,260.4ZM343.3,255.1L343.3,264.4L351.3,259.8ZM353.7,251.2L353.7,268.5L368.8,259.9ZM375.7,249.6L375.7,264.4L388.5,257ZM211.6,261.6L211.6,277L225,269.3ZM246.7,265.6L246.7,273.1L253.2,269.3ZM254.5,259.2L254.5,278.9L271.5,269.1ZM268.3,263.1L268.3,277.7L280.9,270.4ZM293.2,260.2L293.2,276.6L307.4,268.4ZM323.5,258.9L323.5,275.6L338,267.2ZM336.2,259.9L336.2,272.6L347.2,266.3ZM351.3,264.3L351.3,271.5L357.5,267.9ZM358.9,257.9L358.9,275.3L374.1,266.6ZM373.1,263.6L373.1,276.2L384,269.9ZM385.9,264.6L385.9,271.9L392.1,268.3ZM204.3,270.2L204.3,285.3L217.3,277.8ZM228.1,270.6L228.1,288.3L243.4,279.5ZM243.1,275L243.1,283.1L250.1,279ZM252.9,271.2L252.9,283.4L263.4,277.3ZM288.6,273.2L288.6,279.3L293.8,276.2ZM298.6,275.9L298.6,283.9L305.6,279.9ZM307.1,269.8L307.1,286.3L321.4,278ZM320.2,274.8L320.2,282.6L326.9,278.7ZM332.4,275.3L332.4,281.6L337.9,278.5ZM356.2,276.7L356.2,283.6L362.3,280.2ZM379.8,271.2L379.8,286.3L392.8,278.7ZM389.5,270L389.5,282.7L400.5,276.4ZM200.3,282.3L200.3,297.9L213.8,290.1ZM209,279.5L209,298.8L225.6,289.1ZM233.9,278.6L233.9,295.3L248.3,286.9ZM245.3,283.3L245.3,291.8L252.6,287.5ZM257.6,279.9L257.6,295.8L271.4,287.9ZM269.4,280.1L269.4,298.3L285.2,289.2ZM280.5,278.8L280.5,296.6L295.9,287.7ZM294.1,284.3L294.1,290.4L299.4,287.4ZM351.2,282.6L351.2,291.5L358.9,287ZM361.6,286.8L361.6,294L367.8,290.4ZM369.6,280.1L369.6,295.6L383.1,287.8ZM395,284.7L395,293.7L402.8,289.2ZM192.7,289.3L192.7,306.7L207.7,298ZM231.2,293.8L231.2,300.1L236.7,296.9ZM266.3,295L266.3,303L273.2,299ZM284.4,289.3L284.4,304.3L297.4,296.8ZM296.7,287.3L296.7,305.9L312.8,296.6ZM312.3,295.9L312.3,303.4L318.8,299.7ZM320.8,289L320.8,308.8L338,298.9ZM332.5,293.2L332.5,299.6L338,296.4ZM345.2,295.3L345.2,302.9L351.8,299.1ZM379.8,292.8L379.8,307.7L392.7,300.3ZM390.2,289.9L390.2,305L403.3,297.4ZM402.1,295.4L402.1,303.4L409,299.4ZM187.2,301.7L187.2,319.2L202.3,310.5ZM202.7,301.3L202.7,311.8L211.8,306.5ZM223.7,304.8L223.7,311.6L229.6,308.2ZM230.6,297.2L230.6,317L247.8,307.1ZM247.8,303.2L247.8,309.8L253.5,306.5ZM258.7,302.5L258.7,314.3L269,308.4ZM268.9,299.2L268.9,316.9L284.3,308.1ZM294.7,304L294.7,311.9L301.6,308ZM318.3,302.9L318.3,310.6L325,306.8ZM327.8,302.7L327.8,318.4L341.4,310.5ZM336.2,300.2L336.2,316.2L350.1,308.2ZM349.1,302.5L349.1,311.2L356.7,306.9ZM369.6,301.9L369.6,317.7L383.3,309.8ZM383.9,303.2L383.9,311.2L390.8,307.2ZM392.4,298.5L392.4,315.4L407,307ZM406.5,298.4L406.5,317.2L422.8,307.8ZM180.7,308.8L180.7,328.6L197.9,318.7ZM202.6,309.1L202.6,327.5L218.6,318.3ZM217.3,309.4L217.3,326.6L232.2,318ZM239.3,310.4L239.3,325L252,317.7ZM253,315L253,323L260,319ZM264.9,315.3L264.9,323.3L271.8,319.3ZM322.8,313.6L322.8,320.5L328.9,317.1ZM343,311.3L343,323.4L353.5,317.4ZM366.5,309.3L366.5,325.2L380.3,317.2ZM377.3,312.4L377.3,327.8L390.7,320.1ZM386.5,310.6L386.5,328.2L401.7,319.4ZM398.1,311.2L398.1,328.4L413,319.8ZM410.2,311.2L410.2,326.3L423.3,318.7ZM188.1,317.4L188.1,335.5L203.7,326.5ZM199.2,324.4L199.2,334.6L208,329.5ZM223,320.6L223,333.1L233.9,326.8ZM235.9,319.6L235.9,334.5L248.9,327.1ZM245.8,324.4L245.8,331.7L252.2,328ZM254.9,318.2L254.9,335.4L269.8,326.8ZM270.3,324.7L270.3,332.7L277.2,328.7ZM280.1,322.7L280.1,333.9L289.7,328.3ZM326.5,322.8L326.5,337.9L339.7,330.4ZM335.9,317.6L335.9,335.6L351.5,326.6ZM351.3,322.3L351.3,330.4L358.4,326.4ZM371.3,319.1L371.3,334L384.1,326.6ZM383.1,322.6L383.1,337.4L396,330ZM406,318.2L406,335L420.5,326.6ZM180.4,332L180.4,347.1L193.5,339.5ZM206.2,334.5L206.2,342.6L213.2,338.6ZM249.8,328.3L249.8,347.9L266.7,338.1ZM264.9,333.6L264.9,341.2L271.4,337.4ZM283.4,330L283.4,348.5L299.4,339.2ZM299.3,329L299.3,344.5L312.6,336.7ZM307.3,329.3L307.3,348.5L323.9,338.9ZM323.3,333L323.3,340.2L329.6,336.6ZM331.2,329L331.2,343.8L343.9,336.4ZM346.6,334L346.6,341.3L352.9,337.6ZM379.9,337.3L379.9,343.6L385.3,340.5ZM390.5,332.1L390.5,346.6L403.1,339.4ZM402.1,336.2L402.1,343.6L408.5,339.9ZM413.3,330.9L413.3,347.3L427.5,339.1ZM190.4,343.5L190.4,349.9L195.9,346.7ZM203.1,343.3L203.1,351.1L209.9,347.2ZM211.2,342.7L211.2,355.3L222.1,349ZM257.5,338.5L257.5,354.4L271.3,346.4ZM267,339.1L267,353.7L279.7,346.4ZM303,339.4L303,358.4L319.5,348.9ZM327.5,342.7L327.5,358.3L341,350.5ZM336.3,338.3L336.3,354.9L350.6,346.6ZM349.6,341.9L349.6,350.5L357.1,346.2ZM361.4,340.2L361.4,355.6L374.7,347.9ZM373.5,341.3L373.5,357L387.1,349.2ZM383.4,340.6L383.4,355.3L396,348ZM397.6,344.3L397.6,354.1L406.2,349.2ZM406.3,340.2L406.3,359.8L423.2,350ZM206.5,351.6L206.5,363.9L217.1,357.8ZM228,354.5L228,362.6L235.1,358.6ZM239.8,354.3L239.8,366.2L250.2,360.2ZM251.3,352.8L251.3,360.1L257.6,356.4ZM274.6,350.8L274.6,366.2L287.9,358.5ZM285.2,351.9L285.2,367.7L298.9,359.8ZM310.3,352.8L310.3,364.8L320.7,358.8ZM318.6,348L318.6,367.2L335.2,357.6ZM353.9,353L353.9,363.9L363.3,358.4ZM364.1,348.9L364.1,365.9L378.8,357.4ZM378.2,349.2L378.2,365.3L392.1,357.2ZM410.4,350.6L410.4,367.7L425.1,359.2ZM187.2,361.1L187.2,378.7L202.5,369.9ZM246.6,362.7L246.6,377.6L259.5,370.2ZM257.7,360.2L257.7,374.7L270.2,367.4ZM267.9,358.7L267.9,375L282,366.9ZM278.8,360.4L278.8,379.5L295.4,369.9ZM295.3,363.4L295.3,370.5L301.4,367ZM305.6,362.7L305.6,370.6L312.4,366.7ZM317.7,366.3L317.7,374.3L324.7,370.3ZM340.9,364.9L340.9,371.5L346.6,368.2ZM361.2,360.9L361.2,375.2L373.6,368.1ZM373.1,362.4L373.1,370.2L379.9,366.3ZM382.6,361.3L382.6,375.4L394.8,368.4ZM399.2,366.3L399.2,372.9L404.9,369.6ZM405.6,357.1L405.6,376.7L422.6,366.9ZM198.3,374.3L198.3,380.8L203.9,377.5ZM205.6,376.8L205.6,384.4L212.2,380.6ZM227.1,368.7L227.1,384.2L240.5,376.5ZM254.9,375.6L254.9,383.2L261.5,379.4ZM262.2,369L262.2,386.7L277.5,377.9ZM271.6,368.8L271.6,385.8L286.3,377.3ZM286.3,373.9L286.3,380.6L292.1,377.3ZM298.7,375.1L298.7,384.6L307,379.9ZM323.1,374.5L323.1,384.8L332.1,379.7ZM329.3,370.9L329.3,386.6L343,378.7ZM344.4,373.2L344.4,381.2L351.3,377.2ZM356.7,372.7L356.7,382.2L364.9,377.4ZM367.3,367.8L367.3,385.6L382.7,376.7ZM380.8,374.4L380.8,382.3L387.6,378.3ZM389.9,368.8L389.9,384.3L403.4,376.5ZM399.9,367.3L399.9,385.9L416,376.6ZM198.3,378.3L198.3,394.3L212.1,386.3ZM210.5,382.7L210.5,397.7L223.5,390.2ZM247.9,385.2L247.9,391.5L253.3,388.3ZM257.2,379.6L257.2,397L272.4,388.3ZM280.8,380.3L280.8,394.9L293.5,387.6ZM294.2,385.2L294.2,392.6L300.6,388.9ZM304,382L304,396.7L316.7,389.3ZM340.1,383.2L340.1,393.3L348.8,388.2ZM348.9,382.4L348.9,398.7L363,390.5ZM364.6,382.7L364.6,390.4L371.2,386.6ZM374.2,385.7L374.2,393.6L381,389.7ZM385,384.2L385,393.6L393.2,388.9ZM396.3,382.4L396.3,397.3L409.2,389.8ZM206.3,397L206.3,403.6L212,400.3ZM217.2,388.2L217.2,406.3L232.9,397.2ZM229.6,390.1L229.6,406.4L243.7,398.3ZM239.1,388.6L239.1,403.8L252.2,396.2ZM251.8,394.5L251.8,404.6L260.6,399.6ZM263.8,393.8L263.8,401.2L270.2,397.5ZM275,395.2L275,401.8L280.6,398.5ZM286.4,388.2L286.4,405.1L301.1,396.6ZM306.2,391.7L306.2,408.5L320.8,400.1ZM321.3,396.8L321.3,404.3L327.9,400.5ZM332.7,388.1L332.7,404.3L346.8,396.2ZM344.9,392.5L344.9,407.8L358.2,400.2ZM376.5,388.2L376.5,406.9L392.8,397.5ZM211.2,398L211.2,414.8L225.7,406.4ZM233.5,398.5L233.5,415.5L248.2,407ZM246.1,398.9L246.1,417.8L262.4,408.4ZM258.3,401.4L258.3,418.6L273.2,410ZM270,407.2L270,413.8L275.8,410.5ZM283.6,406.5L283.6,414.1L290.2,410.3ZM289.2,399.3L289.2,418.8L306.1,409.1ZM313.8,401.8L313.8,415.1L325.2,408.5ZM326.6,404.7L326.6,416L336.5,410.4ZM341.4,402.4L341.4,410.3L348.3,406.3ZM359.8,400.9L359.8,417.8L374.4,409.4ZM373.3,403.7L373.3,409.7L378.5,406.7ZM384.9,399.3L384.9,416.1L399.5,407.7ZM214.2,411.1L214.2,427.4L228.4,419.2ZM225.2,407.2L225.2,425.4L241,416.3ZM238.1,409.4L238.1,428.9L255,419.2ZM263.2,409.7L263.2,425.2L276.6,417.5ZM275.1,409.2L275.1,424.4L288.3,416.8ZM288.6,416.1L288.6,422.8L294.4,419.4ZM319.5,413.1L319.5,424.4L329.4,418.8ZM330.8,410L330.8,429.9L348.1,419.9ZM342.4,410L342.4,426.5L356.8,418.3ZM366.5,409.7L366.5,427.5L381.9,418.6ZM375,407.5L375,426L391,416.8ZM234.1,421.8L234.1,433.7L244.4,427.7ZM260,425.1L260,435L268.6,430.1ZM280.2,422.4L280.2,438.7L294.4,430.6ZM292.4,426.2L292.4,432.3L297.7,429.2ZM316.3,421.4L316.3,434.1L327.2,427.7ZM330.1,423.1L330.1,431L337,427ZM337.2,418.1L337.2,436.6L353.3,427.4ZM348.6,418.2L348.6,436.1L364,427.2ZM360.7,419.1L360.7,434.7L374.2,426.9ZM369.5,417.9L369.5,434.5L383.9,426.2ZM239.9,429.2L239.9,445L253.5,437.1ZM250.8,432.5L250.8,447.8L264.1,440.1ZM261.6,430.2L261.6,445.3L274.7,437.7ZM278.4,433.9L278.4,441.7L285.2,437.8ZM287.8,431.6L287.8,442.4L297.1,437ZM298.6,434.5L298.6,440.8L304.1,437.7ZM310.2,432.4L310.2,442.6L319,437.5ZM321.1,435.1L321.1,441.2L326.4,438.1ZM331.3,433.2L331.3,446L342.3,439.6ZM345,432.4L345,448.2L358.6,440.3ZM354,431.6L354,448.6L368.8,440.1ZM257.7,438.7L257.7,457.6L274,448.1ZM265.9,438.3L265.9,456L281.2,447.1ZM278.3,439L278.3,455.6L292.7,447.3ZM291.3,443.1L291.3,457.4L303.7,450.3ZM302.2,440.8L302.2,456.1L315.5,448.4ZM311.3,439.5L311.3,458.7L328,449.1ZM325.7,439.1L325.7,456.7L340.9,447.9Z" fill="#4cd14c" stroke="#4cd14c" stroke-width="1.6" stroke-linejoin="round"/></g></g>
<g clip-path="url(#c1)"><circle cx="303.4" cy="334.8" r="1.7" fill="#e7e6ea"/><circle cx="303.3" cy="334.8" r="1.5" fill="#e7e6ea"/><path d="M211.2,293 221.2,286.4 225.8,289 225.8,301 216.5,301ZM266.9,251.2 276.2,246.6 276.2,256.5 272.9,254.5ZM277.6,237.3 284.2,232 285.5,229.3 290.2,229.3 290.2,241.3 287.5,241.9 282.9,237.9ZM286.2,262.5 290.8,261.8 290.2,266.5ZM280.2,281.1 285.5,278.4 285.5,290.4 282.2,289.7 281.5,285ZM220.9,270.7 222.9,270.2 222.5,272.4ZM321.8,255.9 330.5,249.2 331.8,261.2ZM338.4,247.2 341.7,246.6 341.1,249.9ZM333.8,263.2 342.4,257.8 348.4,267.1 344.4,276.4 339.1,273.1ZM321.8,284.4 333.8,277.7 334.4,291ZM343.1,287.7 355,281.1 356.3,297 352.4,298.3ZM368.9,288.4 381.5,281.1 382.2,299.6ZM253,326.2 266.9,314.3 267.6,334.2 256.3,329.5ZM215.9,312.9 221.8,318.2 225.8,316.9 226.5,320.9 221.8,321.6 216.5,316.9ZM193.3,354.1 198,351.4 200.6,356.7 199.3,362.7 194,360.7ZM282.9,344.8 288.8,343.5 289.5,353.4 283.5,352.1ZM248.4,366 259,359.4 259.6,368.7 252.4,370ZM259,371.3 272.9,364.7 274.2,374 260.3,374ZM276.2,371.3 285.5,368.7 286.2,374 276.2,374ZM336.4,318.9 350.4,312.3 351,320.9 347,326.2ZM380.9,332.2 384.2,320.9 394.1,315.6 394.8,339.5 390.8,340.1ZM359,339.5 366.9,335.5 366.3,344.1ZM402.8,321.6 408.1,320.2 408.1,326.2ZM404.8,339.5 410.1,337.5 410.1,345.4ZM393.5,352.7 400.8,346.1 401.4,358 396.1,355.4ZM394.1,364 400.1,360.7 399.4,368.7ZM335.8,364 342.4,360.7 341.7,374 336.4,374ZM361.2,366 363.4,364.9 363.4,367.1ZM229.8,411.1 232.5,404.5 239.7,399.9 241.1,405.8 240.4,417.8 233.8,417.8ZM243.1,413.1 247.7,411.1 253.7,417.8 251.7,420.4ZM244.4,430.4 259.6,422.4 259.6,437.7ZM264.3,374 273.6,374 272.9,380ZM277.6,374 285.5,374 286.2,379.3ZM282.9,386.6 290.2,382.6 290.8,389.3ZM272.9,405.2 284.2,399.2 280.2,407.8ZM301.4,409.8 307.4,406.5 307.4,416.5ZM268.3,387.9 272.2,387.3 271.6,390.6ZM265.6,427.1 269.6,426.4 270.3,430.4ZM208.6,393.2 210.6,392.6 211.2,397.2ZM225.2,380 227.8,380 227.8,383.3ZM329.8,382.6 341.1,374 343.7,376 343.7,389.3ZM329.8,395.9 334.4,391.2 339.1,391.9 339.7,403.2 343.1,405.8 339.7,409.2 333.1,403.8ZM301.9,411.1 307.2,407.2 307.2,415.1ZM351,430.4 362.3,423.7 363,427.1 355,433ZM389.5,383.9 392.1,382.6 392.8,386.6Z" fill="#dc4a48" stroke="#dc4a48" stroke-width="1.2" stroke-linejoin="round"/><path d="M239.1,257.2 243.1,245.9 246.4,245.2 248.4,255.2 243.1,257.8ZM263.6,236 268.3,235.3 272.2,241.3 265.6,242.6ZM263,266.5 266.3,265.1 272.2,269.1 280.9,271.1 282.2,275.1 277.6,279.1 270.9,279.7 265.6,275.8 263.6,270.5ZM295.5,276.4 305.4,279.1 308.1,282.4 305.4,286.4 310.1,293 308.1,301 300.1,301 297.5,290.4ZM341.1,249.9 348.4,249.2 356.3,252.5 359.6,259.8 355,266.5 348.4,264.5 343.1,256.5ZM321.8,270.5 325.2,262.5 337.8,273.1 327.1,279.1ZM222.5,326.2 227.1,320.9 233.8,322.2 241.1,326.9 247,322.9 251.7,324.2 252.4,329.5 241.1,328.9 236.4,334.2 229.8,336.8 224.5,334.2ZM239.7,335.5 243.1,330.2 251.7,332.8 251,339.5 245.7,344.8 241.1,343.5ZM253.7,307 262.3,307.6 265.6,302.3 280.2,302.3 282.9,306.3 274.9,309 270.9,314.3 265.6,313.6 262.3,310.3ZM199.9,338.8 218.5,346.1 211.9,352.7 207.2,356.1 202.6,347.4ZM218.5,364 221.2,368.7 231.1,366 233.8,361.4 245.7,367.3 247,374 218.5,374ZM284.9,336.8 288.8,331.5 294.8,330.8 298.8,322.9 305.4,327.5 309.4,329.5 314.7,320.9 320,322.2 320,339.5 309.4,340.8 305.4,343.5 298.8,339.5 289.5,342.8ZM304.1,312.9 310.7,312.3 310.1,319.6 305.4,322.2ZM304.8,355.4 310.1,354.1 314.7,361.4 309.4,367.3 304.1,366ZM300.1,301 305.4,301 304.1,303.7ZM290,336.8 290,330.8 294.6,327.5 298.6,322.2 303.3,327.5 309.9,329.5 314.5,320.9 320.5,323.6 326.5,329.5 323.8,336.2 318.5,339.5 313.2,334.2 308.6,339.5 303.3,343.5 298,340.1ZM303.9,312.3 311.2,312.3 309.9,319.6 305.9,322.2ZM314.5,342.1 334.4,350.1 319.8,360.7ZM303.3,358 307.9,354.1 311.9,355.4 315.2,362.7 308.6,367.3 303.3,366ZM369.6,317.6 383.5,324.2 374.2,336.8ZM356.3,346.1 361.6,346.1 365.6,354.1 361.6,358.7 358.3,354.1ZM408.7,326.2 410.7,327.5 411,338.1 409.4,336.8ZM299.3,301 304.6,301 303.3,303ZM216.5,380 219.8,374 239.1,374 235.1,376.7ZM199.9,376.7 203.3,375.3 207.9,383.9 204.6,385.3ZM247.7,409.2 250.4,399.9 266.3,413.1 255,417.1ZM278.9,407.8 284.9,399.9 286.2,402.5 282.2,411.8ZM305.4,399.2 308.7,387.3 313.4,380 320,379.3 320,402.5 314.7,397.9 310.7,403.2ZM305.9,399.2 308.6,385.9 317.2,379.3 323.2,382 331.8,390.6 328.5,397.9 321.8,402.5 316.5,397.9 311.9,402.5ZM321.8,416.5 325.8,409.2 334.4,412.5 332.5,417.8 335.1,424.4 329.1,429.1 323.2,424.4ZM353.7,374 364.3,374 363.6,381.3 360.3,381.3Z" fill="#4848d6" stroke="#4848d6" stroke-width="1.2" stroke-linejoin="round"/></g>
<!--C2-->
<circle cx="542.9" cy="337.8" r="109.4" fill="#4cd14c"/>
<g clip-path="url(#c2)"><path d="M522.9,236 530.8,231.3 531.5,243.9 528.8,244.6 528.2,237.9ZM523.5,253.9 525.5,253.9 524.9,278.4 522.9,278.4ZM503.6,285 506.3,284.4 510.9,289.7 516.2,285 514.9,293 512.2,297.6 510.3,297 511.6,291.7ZM484.4,249.2 488.4,254.5 487.7,263.8 484.4,265.1 486.4,259.8 485.7,254.5ZM493.7,267.8 501.6,261.2 508.3,259.8 508.3,265.1 504.3,267.1 497.7,267.8 495.7,271.1ZM467.8,274.4 475.8,273.8 474.4,281.1ZM548.7,248.6 551.4,248.6 552,271.8 550.1,271.8ZM540.1,273.1 546.1,273.1 546.7,281.1 544.1,291.7 540.1,290.4 541.4,281.1ZM453.2,277.7 455.9,278.4 456.5,297 453.9,298.3ZM502.3,237.3 505.6,236.6 504.3,239.9ZM549.4,294.3 552,293.7 554,297 550.7,298.3ZM606.3,251.2 608.3,251.9 606.9,271.8 604.3,274.4 599,278.4 596.3,277.7 603.6,271.8 604.3,254.5ZM622.9,267.8 624.9,267.8 625.5,283.7 622.9,285ZM617.6,281.1 624.2,279.7 624.5,282.4 618.2,283.1ZM561.2,253.2 565.8,247.9 567.8,249.2 566.5,259.8 564.5,259.2ZM569.8,284.4 583.1,277.1 585.1,277.7 572.5,285 581.1,291.7 579.1,293ZM436.6,323.6 445.9,313.6 451.9,312.3 452.6,316.3 443.3,320.9 438.6,327.5 436,327.5ZM449.9,360.7 453.9,354.1 454.5,359.4 451.9,362.7ZM465.2,315.6 467.8,315.6 469.1,335.5 466.5,336.2ZM488.4,306.3 491,305.6 492.4,320.9 490.4,321.6 475.8,331.5 475.1,329.5 488.4,320.2ZM496.3,340.8 502.3,336.2 508.3,335.5 514.9,339.5 516.2,346.1 514.2,346.8 512.9,340.8 507.6,337.5 503,338.8 501,344.8 496.3,350.7 495.7,350.1ZM484.4,353.4 489.7,356.7 491.7,359.4 488.4,360 482.4,356.7 479.1,359.4 479.7,366 476.4,374 474.4,374 477.1,366 476.4,358ZM528.2,306.3 531.5,305 531.5,311.6 528.8,310.9ZM524.9,321.6 531.5,318.9 534.8,326.2 538.1,324.9 540.1,322.9 547.4,323.6 547.4,324.9 538.8,326.9 536.1,329.5 532.1,327.5ZM516.2,325.5 518.9,325.5 518.2,329.5 516.2,329.5ZM528.8,346.1 531.5,345.4 532.1,354.1 528.2,358 527.5,362 525.5,362 526.2,356.7 528.8,353.4ZM548.7,343.5 552,342.1 555.4,351.4 560,354.1 560,358 554,354.1 551.4,350.1ZM507.6,363.4 510.3,363.4 510.9,374 508.3,374ZM521.5,370 528.2,367.3 528.2,374 522.9,374ZM557.4,328.9 560,327.5 560,330.8 557.4,331.5ZM541.4,364.7 545.4,365.3 546.7,369.3 540.8,369.3ZM556.5,304.3 559.8,304.3 563.2,310.3 572.5,310.9 573.8,313.6 569.8,314.9 561.8,312.9 557.9,308.3ZM590.4,314.3 592.4,315.6 591,324.9 587,334.2 587,346.1 584.4,348.8 583.7,344.8 585.1,332.8 589,324.9ZM605,320.2 609.6,318.9 610.9,322.2 608.3,324.2 605.6,323.6ZM628.8,312.9 632.1,312.3 642.8,318.9 641.4,325.5 636.1,322.2 629.5,318.2ZM565.8,339.5 568.5,339.5 568.5,346.1 566.5,348.1ZM549.2,343.5 553.2,342.8 554.5,347.4 553.2,351.4 559.8,354.1 561.2,358 556.5,356.7 552.6,353.4 549.9,347.4ZM611.6,352.7 619.5,349.4 620.2,352.1 612.9,355.4ZM594.3,363.4 602.3,359.4 601.6,364.7 597,367.3ZM563.2,366 573.8,361.4 574.4,363.4 565.2,368.7ZM581.1,358 586.4,356.7 587,362 583.1,361.4ZM625.5,364 632.8,362.7 636.1,367.3 634.8,370 630.8,366 626.2,366.7ZM641.4,359.4 644.8,358.7 645.4,363.4 641.4,364ZM530,324.9 534,326.2 538,326.2 541.9,322.9 547.9,323.6 547.2,325.5 538,328.9 530,327.5ZM541.9,366 545.9,365.3 546.6,368.7 541.3,369.3ZM617.6,368.7 621.5,368 621.5,372.6 618.2,372.6ZM614.9,326.9 620.2,326.9 620.9,329.5 616.9,330.2ZM448.6,385.3 454.5,384.6 453.9,388.6 449.2,389.9ZM495,384.6 497,384.6 500.3,396.6 502.3,399.9 497.7,398.5 494.3,395.2ZM508.3,374 510.9,374 510.3,377.3 508.9,377.3ZM512.9,389.9 520.2,393.2 519.5,394.2 513.6,396.8ZM527.5,402.5 532.8,399.9 532.8,407.2ZM498.3,415.1 502.3,412.5 506.3,414.5 504.3,417.8 499.6,417.8ZM483.7,409.8 487,409.2 487,415.1 484.4,413.8ZM478.4,424.4 486.4,419.8 487,425.1 481.7,427.1ZM532.1,421.8 536.1,420.4 534.8,431 530.2,431ZM540.1,389.3 544.1,387.9 544.8,393.2 540.1,393.9ZM509.6,437.7 514.2,436.4 514.2,441.7 510.9,441ZM538.8,439 542.1,438.3 542.8,444.3 539.4,445ZM550.1,431.7 554,431 556.7,435.7 552.7,436.4ZM555.4,385.9 560,385.3 560,391.2 556.7,390.6ZM583.1,374 591.7,374 591.7,380.6 588.4,380 584.4,377.3ZM555.9,385.9 558.5,386.6 561.8,393.9 561.2,398.5 559.2,393.9ZM570.5,380.6 574.4,379.3 575.1,383.3 571.1,385.3ZM565.2,407.2 569.8,401.9 571.8,413.8 569.1,414.5ZM605,389.9 608.3,387.3 609.6,393.9 606.3,395.2ZM592.4,408.5 599.6,411.1 599.6,413.1 593.7,412.5ZM587.7,419.1 591.7,418.4 592.4,424.4 595.7,428.4 593.7,429.1 588.4,423.7ZM532,420.4 535.3,419.8 535.3,431.7 532,432.4ZM569.8,427.1 575.8,425.1 575.8,429.7 571.1,431ZM549.9,431 556.5,433 555.9,436.4 551.2,435ZM530,400.5 532.7,400.5 532.7,407.2 530,407.2ZM539.9,388.6 543.9,387.9 543.9,393.9 539.9,393.9ZM549.9,374 554.5,374 553.9,376.7 550.6,376.7Z" fill="#e7e6ea" stroke="#e7e6ea" stroke-width="1.2" stroke-linejoin="round"/><path d="M534.8,230.7L540.8,235.3" stroke="#e7e6ea" stroke-width="1.5" stroke-linecap="round" fill="none"/><path d="M524.9,278.4L514.9,286.4" stroke="#e7e6ea" stroke-width="1.9" stroke-linecap="round" fill="none"/><path d="M487,284.4L495.7,279.7" stroke="#e7e6ea" stroke-width="1.5" stroke-linecap="round" fill="none"/><path d="M584,251.9L584.4,283.7" stroke="#e7e6ea" stroke-width="2.3" stroke-linecap="round" fill="none"/><path d="M583.7,252.1L592.4,244.2" stroke="#e7e6ea" stroke-width="1.9" stroke-linecap="round" fill="none"/><path d="M567.1,237.3L573.8,234" stroke="#e7e6ea" stroke-width="1.5" stroke-linecap="round" fill="none"/><circle cx="603" cy="291.7" r="1.2" fill="#e7e6ea"/><circle cx="627.5" cy="295.7" r="1.1" fill="#e7e6ea"/><path d="M491,306.3L510.3,316.9" stroke="#e7e6ea" stroke-width="1.9" stroke-linecap="round" fill="none"/><path d="M556.5,329.5L569.8,320.9" stroke="#e7e6ea" stroke-width="2.3" stroke-linecap="round" fill="none"/><circle cx="632.4" cy="344.1" r="1.3" fill="#e7e6ea"/><circle cx="644.1" cy="345.4" r="1.2" fill="#e7e6ea"/><circle cx="650.1" cy="345.4" r="1.2" fill="#e7e6ea"/><path d="M476.4,374L477.5,391.2" stroke="#e7e6ea" stroke-width="1.5" stroke-linecap="round" fill="none"/><path d="M476.4,391.9L493,383.3" stroke="#e7e6ea" stroke-width="1.9" stroke-linecap="round" fill="none"/><circle cx="518.6" cy="413.5" r="2.3" fill="#e7e6ea"/><circle cx="544.1" cy="410.9" r="2.8" fill="#e7e6ea"/><circle cx="554" cy="420.4" r="2.3" fill="#e7e6ea"/><circle cx="521.5" cy="424.4" r="1.5" fill="#e7e6ea"/><path d="M522.9,374L534.8,378.6" stroke="#e7e6ea" stroke-width="1.5" stroke-linecap="round" fill="none"/><path d="M534.8,378.6L536.8,386.6" stroke="#e7e6ea" stroke-width="1.5" stroke-linecap="round" fill="none"/><path d="M590.4,380.6L590.4,403.8" stroke="#e7e6ea" stroke-width="1.5" stroke-linecap="round" fill="none"/><path d="M609.6,380.6L608.3,388.6" stroke="#e7e6ea" stroke-width="1.5" stroke-linecap="round" fill="none"/><path d="M621.5,385.3L634.8,393.2" stroke="#e7e6ea" stroke-width="1.9" stroke-linecap="round" fill="none"/><circle cx="622.1" cy="385.7" r="1.5" fill="#e7e6ea"/><path d="M616.4,399.9L616.5,416.5" stroke="#e7e6ea" stroke-width="1.9" stroke-linecap="round" fill="none"/><circle cx="543.9" cy="410.5" r="2.3" fill="#e7e6ea"/><circle cx="553.9" cy="420.4" r="2" fill="#e7e6ea"/><circle cx="539.9" cy="441.7" r="2" fill="#e7e6ea"/><path d="M442.6,297.6 453.2,277.7 453.9,298.3 449.9,300.3ZM485.1,249.9 489,248.6 488.4,253.9ZM500.3,263.2 506.3,260.5 505.6,265.8ZM506.3,285 514.2,279.7 514.2,289ZM554.7,247.9 560,245.9 560,253.2ZM540.8,277.7 546.1,274.4 545.4,281.1ZM550.7,297 554.7,295.7 555.4,301ZM538.1,289.7 541.4,288.4 541.2,291.7ZM572.5,284.4 584.4,277.7 584.4,287.7 581.1,290.4ZM434,343.5 438.6,327.5 443.3,320.9 452.6,316.3 454.5,318.2 453.9,354.1 449.9,360.7 441.9,366 436.6,363.4 435.3,354.1ZM477.8,332.2 490.4,321.6 496.3,340.8 495.7,350.1 489.7,356.7 484.4,353.4 489,347.4 483.1,339.5ZM531.5,311.6 536.1,314.3 538.1,324.9 534.8,326.2 531.5,319.6ZM494.3,306.3 497.7,305 498.3,309ZM552,301 556,301 555.4,306.3ZM605.6,312.9 620.2,303 624.2,312.9 628.2,313.6 627.5,318.2 621.5,320.2 620.2,327.5 614.9,331.5 609.6,329.5 610.9,319.6ZM632.1,311.6 646.7,304.3 650.7,320.9 642.8,318.2ZM565.2,368.7 580.4,359.4 587,364.7 593.7,364.7 592.4,374 567.1,374ZM530,311.6 536.6,314.3 538,326.2 534,326.2ZM551.9,301 555.9,301 555.2,306.3ZM440.6,378 444.6,382 448.6,387.3 447.2,389.9ZM448.6,392.6 456.5,388.6 457.9,404.5 455.2,401.9ZM501.6,400.5 506.3,399.2 506.9,413.8 501.6,412.5ZM513.6,397.2 519.5,393.9 524.9,402.5ZM549.4,429.7 552,429.1 551.4,431.7ZM562.5,379.3 568.5,374 583.1,374 583.1,379.3 575.1,380.6 569.8,385.3 563.8,383.9ZM563.8,399.9 568.5,400.5 567.8,407.2 565.2,404.5ZM571.8,432.4 576.4,429.1 581.1,432.4 581.1,437.7 576.4,440.3 572.5,439ZM549.2,429.7 551.9,429.1 551.9,431.7Z" fill="#dc4a48" stroke="#dc4a48" stroke-width="1.2" stroke-linejoin="round"/><path d="M455.9,279.1 460.5,273.1 466.5,274.4 473.8,281.1 475.8,275.1 484.4,285 483.1,294.3 480.4,300.3 473.8,300.3 468.5,290.4 460.5,286.4 456.5,286.4ZM540.1,254.5 548.1,251.9 550.1,270.5 544.1,273.8 542.1,262.5ZM479.1,251.2 488.4,245.2 488.4,247.9 481.7,252.5ZM581.1,291.7 584.4,287.7 592.4,293 601.6,293 604.3,286.4 601.6,279.7 604.3,277.1 607.6,281.1 608.3,283.7 620.2,285 627.5,290.4 628.2,294.3 622.9,301 583.1,301ZM455.2,335.5 464.5,334.8 469.8,340.8 471.1,354.1 465.8,356.7 458.5,363.4 458.5,374 439.9,374 443.3,367.3 452.6,362 454.5,354.1ZM540.1,370 545.4,369.3 549.4,374 540.1,374ZM583.7,301 592.4,301 589.7,307.6 588.4,310.3 585.1,306.3ZM606.9,301 617.6,301 612.9,304.3ZM605.6,339.5 612.2,336.2 616.9,340.8 618.9,348.8 611.6,352.7 614.9,363.4 617.6,371.3 609.6,374 603.6,374 600.3,364.7 606.9,354.1 605,346.1ZM608.9,330.2 617.6,329.5 616.2,333.5 610.9,334.2ZM561.2,352.7 566.5,348.8 573.8,361.4 565.8,364.7 562.5,360.7ZM636.1,364.7 644.1,363.4 648.1,367.3 645.4,374 637.5,374ZM539.9,370 547.2,369.3 549.9,374 539.9,374ZM650.1,347.4 651.4,347.4 651.4,354.1 650.1,354.1ZM439.9,374 458.5,374 454.5,383.3 448.6,385.3 444.6,382ZM457.9,398.5 471.1,395.9 472.5,399.9 467.1,412.5 461.8,409.8ZM534.8,378 540.1,374 549.4,374 545.4,382 540.1,388.6 538.8,392.6 528.2,400.5 525.5,401.9 520.2,393.9 534.8,387.9 536.8,383.3ZM556,432.4 560,432.4 560,439 557.4,437.7ZM536.1,445.6 541.4,445.6 541.4,447 536.1,447ZM530,399.2 530,391.2 536.6,387.3 535.3,378 539.9,374 548.6,374 544.6,382 540.6,387.3 539.9,391.2ZM562.5,392.6 569.8,385.3 573.8,391.2 575.8,397.9 569.8,401.9 562.5,399.2ZM605.6,374 616.2,374 612.2,379.3 608.9,379.3ZM633.5,385.9 637.5,374 646.1,374 640.1,388.6 636.1,389.9ZM556.5,433 569.8,431 572.5,439 568.5,443 561.8,444.3 558.5,439Z" fill="#4848d6" stroke="#4848d6" stroke-width="1.2" stroke-linejoin="round"/></g>
<!--C3-->
<circle cx="780" cy="325.5" r="109.3" fill="#4cd14c"/>
<path d="M726.6,370L749.4,365.7L740.7,387Z" fill="#dcc848" stroke="#dcc848" stroke-width="1.5" stroke-linejoin="round"/>
<path d="M692,272.4L698.9,276.2" stroke="#4444d8" stroke-width="7.4" stroke-linecap="round" fill="none"/>
<circle cx="688.5" cy="275.2" r="1.8" fill="#e4dc48"/>
<circle cx="846.2" cy="402.7" r="1.8" fill="#d9d050"/>
<path d="M193.4,352.9A109.4,109.4 0 0 1 335.5,233.7" fill="none" stroke="#2a2a2a" stroke-width="0.7"/>
<path d="M433.6,341.6A109.4,109.4 0 0 1 558.1,229.5" fill="none" stroke="#2a2a2a" stroke-width="0.7"/>
<path d="M847.3,239.4A109.3,109.3 0 0 1 869.5,388.2" fill="none" stroke="#2a2a2a" stroke-width="0.7"/>
<rect x="96" y="203" width="7" height="1" fill="#bbb"/>
<text x="139" y="267.9" font-size="24.5" fill="#12a64e" font-weight="bold" text-anchor="start" textLength="15.1" lengthAdjust="spacingAndGlyphs" >0</text>
<circle cx="159.1" cy="253.3" r="4" fill="none" stroke="#12a64e" stroke-width="1.5"/>
<text x="90" y="341.5" font-size="23" fill="#1616f0" font-weight="bold" text-anchor="start" textLength="89.5" lengthAdjust="spacingAndGlyphs" >Twisted</text>
<text x="144.6" y="410" font-size="24.5" fill="#f01010" font-weight="bold" text-anchor="start" textLength="28.6" lengthAdjust="spacingAndGlyphs" >60</text>
<circle cx="178.2" cy="395.1" r="4.1" fill="none" stroke="#f01010" stroke-width="1.5"/>
<text x="628.1" y="448" font-size="23" fill="#d2960e" font-weight="bold" text-anchor="start" textLength="85.1" lengthAdjust="spacingAndGlyphs" >Bilayer:</text>
<path d="M168.4,263.6L225.5,308.5M180.6,331.3L231.5,330.6M195.6,400.2L267.5,373.1M689.5,414.9L737.5,375" stroke="#222" stroke-width="1.1" fill="none"/>
<text x="108.3" y="469" font-size="18" fill="#0a7d0a" font-weight="bold" text-anchor="start" textLength="94.1" lengthAdjust="spacingAndGlyphs" >0° domain:</text>
<text x="271.3" y="469" font-size="18" fill="#0a7d0a" font-weight="bold" text-anchor="start" textLength="61" lengthAdjust="spacingAndGlyphs" >: 48.5%</text>
<text x="516.9" y="469" font-size="18" fill="#0a7d0a" font-weight="bold" text-anchor="start" textLength="61.8" lengthAdjust="spacingAndGlyphs" >: 70.8%</text>
<text x="756.4" y="469" font-size="18" fill="#0a7d0a" font-weight="bold" text-anchor="start" textLength="61" lengthAdjust="spacingAndGlyphs" >: 98.8%</text>
<text x="108.3" y="487.9" font-size="18" fill="#f01010" font-weight="bold" text-anchor="start" textLength="105.9" lengthAdjust="spacingAndGlyphs" >Antiparallel:</text>
<text x="271.3" y="487.9" font-size="18" fill="#f01010" font-weight="bold" text-anchor="start" textLength="61" lengthAdjust="spacingAndGlyphs" >: 9.44%</text>
<text x="516.9" y="487.9" font-size="18" fill="#f01010" font-weight="bold" text-anchor="start" textLength="51.8" lengthAdjust="spacingAndGlyphs" >: 8.3%</text>
<text x="756.4" y="487.9" font-size="18" fill="#f01010" font-weight="bold" text-anchor="start" textLength="34.8" lengthAdjust="spacingAndGlyphs" >: 0%</text>
<text x="108.3" y="506.2" font-size="18" fill="#1010ee" font-weight="bold" text-anchor="start" textLength="72.8" lengthAdjust="spacingAndGlyphs" >Twisted:</text>
<text x="271.3" y="506.2" font-size="18" fill="#1010ee" font-weight="bold" text-anchor="start" textLength="61" lengthAdjust="spacingAndGlyphs" >: 11.8%</text>
<text x="516.9" y="506.2" font-size="18" fill="#1010ee" font-weight="bold" text-anchor="start" textLength="61.8" lengthAdjust="spacingAndGlyphs" >: 10.4%</text>
<text x="756.4" y="506.2" font-size="18" fill="#1010ee" font-weight="bold" text-anchor="start" textLength="50.8" lengthAdjust="spacingAndGlyphs" >: 0.3%</text>
<text x="108.3" y="525.8" font-size="18" fill="#c8960f" font-weight="bold" text-anchor="start" textLength="65" lengthAdjust="spacingAndGlyphs" >Bilayer:</text>
<text x="271.3" y="525.8" font-size="18" fill="#c8960f" font-weight="bold" text-anchor="start" textLength="34.8" lengthAdjust="spacingAndGlyphs" >: 0%</text>
<text x="516.9" y="525.8" font-size="18" fill="#c8960f" font-weight="bold" text-anchor="start" textLength="34.8" lengthAdjust="spacingAndGlyphs" >: 0%</text>
<text x="756.4" y="525.8" font-size="18" fill="#c8960f" font-weight="bold" text-anchor="start" textLength="50.8" lengthAdjust="spacingAndGlyphs" >: 0.9%</text>
<rect x="0" y="527" width="980" height="24" fill="#fff"/>
</svg>
</body></html>
